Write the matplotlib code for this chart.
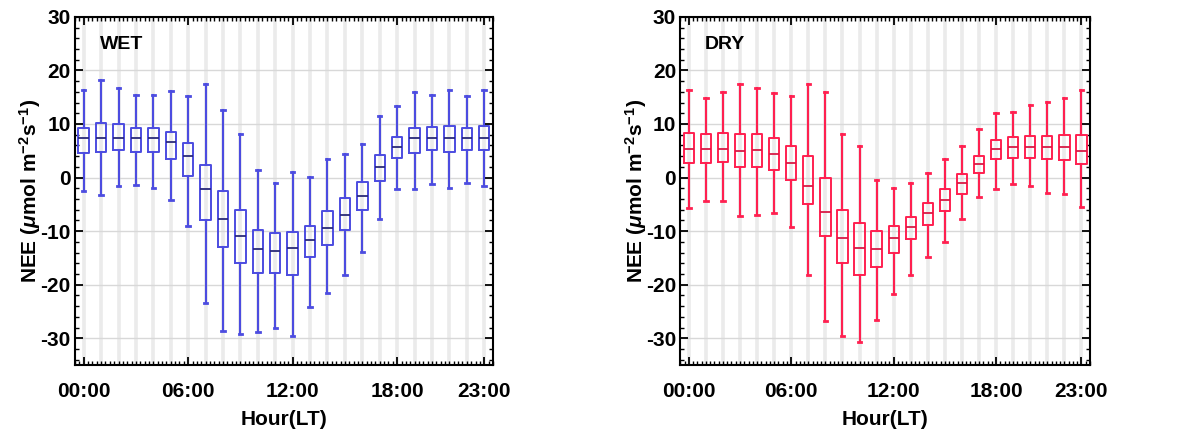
import matplotlib.pyplot as plt
from matplotlib.ticker import MultipleLocator, FixedLocator

plt.rcParams['font.family'] = ['Liberation Sans', 'DejaVu Sans']
plt.rcParams['font.weight'] = 'bold'
plt.rcParams['axes.unicode_minus'] = False
plt.rcParams['mathtext.fontset'] = 'custom'
plt.rcParams['mathtext.rm'] = 'Liberation Sans:bold'
plt.rcParams['mathtext.it'] = 'Liberation Sans:bold:italic'
plt.rcParams['mathtext.default'] = 'rm'

hours = list(range(24))
hour_ticks = [0, 6, 12, 18, 23]
hour_labels = ['00:00', '06:00', '12:00', '18:00', '23:00']

# wet season: whisker low, q1, median, q3, whisker high
wet_low = [-2.5, -3.3, -1.6, -1.4, -1.9, -4.1, -9.0, -23.4, -28.6, -29.2, -28.9, -28.0,
           -29.6, -24.1, -21.6, -18.2, -13.9, -7.8, -2.2, -2.1, -1.2, -1.9, -1.0, -1.6]
wet_q1 = [4.6, 4.7, 5.2, 4.8, 4.8, 3.4, 0.25, -8.0, -12.9, -16.0, -17.8, -17.8,
          -18.2, -14.9, -12.6, -9.8, -6.1, -0.7, 3.7, 4.6, 5.2, 4.8, 5.1, 5.1]
wet_med = [7.3, 7.3, 7.4, 7.4, 7.4, 6.7, 4.0, -2.2, -7.8, -10.9, -13.3, -13.7,
           -13.2, -11.6, -9.4, -6.9, -3.4, 2.0, 5.7, 7.4, 7.4, 7.4, 7.4, 7.4]
wet_q3 = [9.3, 10.2, 10.0, 9.2, 9.2, 8.5, 6.5, 2.3, -2.5, -6.1, -9.8, -10.3,
          -10.1, -9.0, -6.2, -3.9, -0.9, 4.3, 7.6, 9.3, 9.5, 9.6, 9.2, 9.6]
wet_high = [16.3, 18.2, 16.8, 15.5, 15.5, 16.2, 15.2, 17.5, 12.6, 8.1, 1.5, -1.1,
            1.1, 0.1, 3.4, 4.4, 6.2, 11.4, 13.3, 15.9, 15.5, 16.4, 15.3, 16.3]

# dry season
dry_low = [-5.6, -4.4, -4.4, -7.2, -6.9, -6.6, -9.2, -18.2, -26.8, -29.6, -30.7, -26.6,
           -21.8, -18.1, -14.8, -12.0, -7.8, -3.6, -2.1, -1.2, -1.6, -2.9, -3.1, -5.5]
dry_q1 = [2.7, 2.7, 2.9, 1.9, 2.0, 1.4, -0.5, -5.0, -10.9, -16.0, -18.2, -16.7,
          -14.1, -11.5, -8.9, -6.2, -3.0, 0.9, 3.4, 3.7, 3.7, 3.5, 3.2, 2.5]
dry_med = [5.4, 5.4, 5.4, 5.0, 5.2, 4.4, 2.8, -1.6, -6.5, -11.2, -13.1, -13.4,
           -11.3, -9.3, -6.7, -4.2, -1.0, 2.5, 5.4, 5.7, 5.7, 5.7, 5.7, 5.0]
dry_q3 = [8.3, 8.1, 8.3, 8.1, 8.1, 7.4, 5.8, 4.0, 0.0, -6.1, -8.5, -10.0,
          -9.0, -7.3, -4.7, -2.2, 0.6, 4.0, 7.1, 7.5, 7.7, 7.7, 7.9, 7.9]
dry_high = [16.4, 14.9, 15.9, 17.4, 16.8, 15.8, 15.2, 17.5, 16.0, 8.2, 5.8, -0.4,
            -1.9, -1.0, 0.9, 3.5, 5.8, 9.0, 12.1, 12.3, 13.6, 14.1, 14.9, 16.4]


def make_stats(low, q1, med, q3, high):
    stats = []
    for i in range(len(low)):
        stats.append(dict(whislo=low[i], q1=q1[i], med=med[i], q3=q3[i], whishi=high[i], fliers=[]))
    return stats


def draw_panel(ax, stats, color, median_color, title):
    # faint vertical bands at every hour, thin horizontal lines every 10
    for h in hours:
        ax.axvline(h, color='#ebebeb', lw=2.6, zorder=0)
    for v in range(-30, 31, 10):
        ax.axhline(v, color='#d8d8d8', lw=1.0, zorder=0)
    ax.bxp(stats, positions=hours, widths=0.6, showfliers=False,
           boxprops=dict(color=color, lw=1.4),
           whiskerprops=dict(color=color, lw=1.5),
           capprops=dict(color=color, lw=2.0),
           medianprops=dict(color=median_color, lw=1.3),
           capwidths=0.2, manage_ticks=False)
    ax.set_xlim(-0.5, 23.5)
    ax.set_ylim(-35, 30)
    ax.xaxis.set_major_locator(FixedLocator(hour_ticks))
    ax.set_xticklabels(hour_labels)
    ax.xaxis.set_minor_locator(MultipleLocator(0.25))
    ax.yaxis.set_major_locator(MultipleLocator(10))
    ax.yaxis.set_minor_locator(MultipleLocator(2))
    ax.tick_params(which='both', direction='in', top=True, right=True, labelsize=15)
    ax.tick_params(axis='x', which='major', pad=12)
    ax.tick_params(axis='y', which='major', pad=3)
    ax.tick_params(which='major', length=6, width=1.3)
    ax.tick_params(which='minor', length=3, width=1.0)
    for s in ax.spines.values():
        s.set_linewidth(1.5)
    ax.set_xlabel('Hour(LT)', fontsize=15, fontweight='bold', labelpad=7)
    ax.set_ylabel(r'NEE ($\mathit{\mu}$mol m$^{-2}$s$^{-1}$)', fontsize=15, fontweight='bold', labelpad=-2)
    ax.text(0.06, 0.945, title, transform=ax.transAxes, fontsize=14, fontweight='bold', va='top')


fig = plt.figure(figsize=(11.79, 4.32), dpi=100)
ax1 = fig.add_axes([0.0636, 0.155, 0.3545, 0.806])
ax2 = fig.add_axes([0.577, 0.155, 0.3475, 0.806])

draw_panel(ax1, make_stats(wet_low, wet_q1, wet_med, wet_q3, wet_high), '#4c4ce0', '#2a2a7a', 'WET')
draw_panel(ax2, make_stats(dry_low, dry_q1, dry_med, dry_q3, dry_high), '#ff2050', '#d81a45', 'DRY')

fig.savefig('out.png', dpi=100)
